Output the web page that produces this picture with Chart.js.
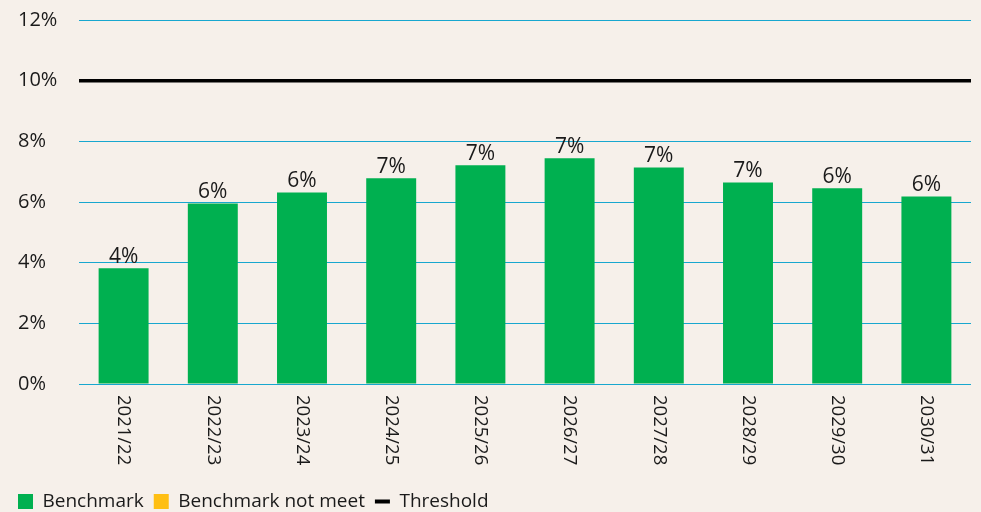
<!DOCTYPE html>
<html>
<head>
<meta charset="utf-8">
<script src="https://cdn.jsdelivr.net/npm/chart.js@4"></script>
<style>
  html, body { margin: 0; padding: 0; background: #f6f0ea; }
  #wrap { width: 981px; height: 512px; }
</style>
</head>
<body>
<div id="wrap"><canvas id="chart"></canvas></div>
<script>
// data
const years = ["2021/22", "2022/23", "2023/24", "2024/25", "2025/26", "2026/27", "2027/28", "2028/29", "2029/30", "2030/31"];
const benchmark = [3.82, 5.95, 6.31, 6.78, 7.21, 7.44, 7.14, 6.64, 6.45, 6.18];
const notMeet = [null, null, null, null, null, null, null, null, null, null];
const threshold = 10;
const yTicks = [0, 2, 4, 6, 8, 10, 12];

const GREEN = "#00b050";
const YELLOW = "#ffbf13";
const GRID = "#18a7cf";
const TEXT = "#1a1a1a";
const FONT = "'Open Sans', sans-serif";

// labels above bars + rotated year labels
const extraLabels = {
    id: "extraLabels",
    afterLayout(chart) {
        chart.scales.y.left = 18;
    },
    afterDatasetsDraw(chart) {
        const ctx = chart.ctx;
        const meta = chart.getDatasetMeta(0);
        ctx.save();
        ctx.fillStyle = TEXT;
        ctx.font = "21px " + FONT;
        ctx.textAlign = "center";
        ctx.textBaseline = "bottom";
        meta.data.forEach((bar, i) => {
            ctx.fillText(Math.round(benchmark[i]) + "%", bar.x, bar.y - 1);
        });
        const xs = chart.scales.x;
        ctx.font = "18.5px " + FONT;
        ctx.textAlign = "left";
        ctx.textBaseline = "middle";
        years.forEach((y, i) => {
            ctx.save();
            ctx.translate(xs.getPixelForValue(i), xs.top + 11);
            ctx.rotate(Math.PI / 2);
            ctx.fillText(y, 0, 0);
            ctx.restore();
        });
        ctx.restore();
    }
};

const ctx = document.getElementById("chart").getContext("2d");
const chart = new Chart(ctx, {
    data: {
        labels: years,
        datasets: [{
            type: "bar",
            label: "Benchmark",
            data: benchmark,
            backgroundColor: GREEN,
            grouped: false,
            barPercentage: 0.56,
            categoryPercentage: 1
        }, {
            type: "bar",
            label: "Benchmark not meet",
            data: notMeet,
            backgroundColor: YELLOW,
            grouped: false,
            barPercentage: 0.56,
            categoryPercentage: 1
        }, {
            // drawn by the 10% grid line, kept here for the legend
            type: "line",
            label: "Threshold",
            data: years.map(() => threshold),
            borderColor: "#000",
            backgroundColor: "#000",
            showLine: false,
            pointRadius: 0
        }]
    },
    options: {
        responsive: true,
        maintainAspectRatio: false,
        animation: false,
        layout: { padding: { left: 8, right: 10, top: 20, bottom: -9 } },
        plugins: {
            tooltip: { enabled: false },
            legend: {
                position: "bottom",
                align: "start",
                labels: {
                    color: TEXT,
                    font: { family: FONT, size: 19 },
                    usePointStyle: true,
                    pointStyleWidth: 15,
                    boxHeight: 15,
                    padding: 10,
                    generateLabels(chart) {
                        return chart.data.datasets.map((ds, i) => ({
                            text: ds.label,
                            fillStyle: ds.type === "line" ? "#000" : ds.backgroundColor,
                            strokeStyle: ds.type === "line" ? "#000" : ds.backgroundColor,
                            lineWidth: ds.type === "line" ? 4 : 0,
                            pointStyle: ds.type === "line" ? "line" : "rect",
                            fontColor: TEXT,
                            datasetIndex: i,
                            hidden: false
                        }));
                    }
                }
            }
        },
        scales: {
            x: {
                grid: { display: false },
                border: { display: false },
                ticks: { display: false },
                afterFit(scale) { scale.height = 98; }
            },
            y: {
                min: 0,
                max: 12,
                afterBuildTicks(scale) {
                    scale.ticks = yTicks.map(v => ({ value: v }));
                },
                afterFit(scale) { scale.width = 71; },
                border: { display: false },
                grid: {
                    drawTicks: false,
                    color: yTicks.map(v => v === threshold ? "#000" : GRID),
                    lineWidth: yTicks.map(v => v === threshold ? 3.5 : 1)
                },
                ticks: {
                    color: TEXT,
                    font: { family: FONT, size: 20 },
                    crossAlign: "far",
                    callback: v => v + "%"
                }
            }
        }
    },
    plugins: [extraLabels]
});
</script>
</body>
</html>
